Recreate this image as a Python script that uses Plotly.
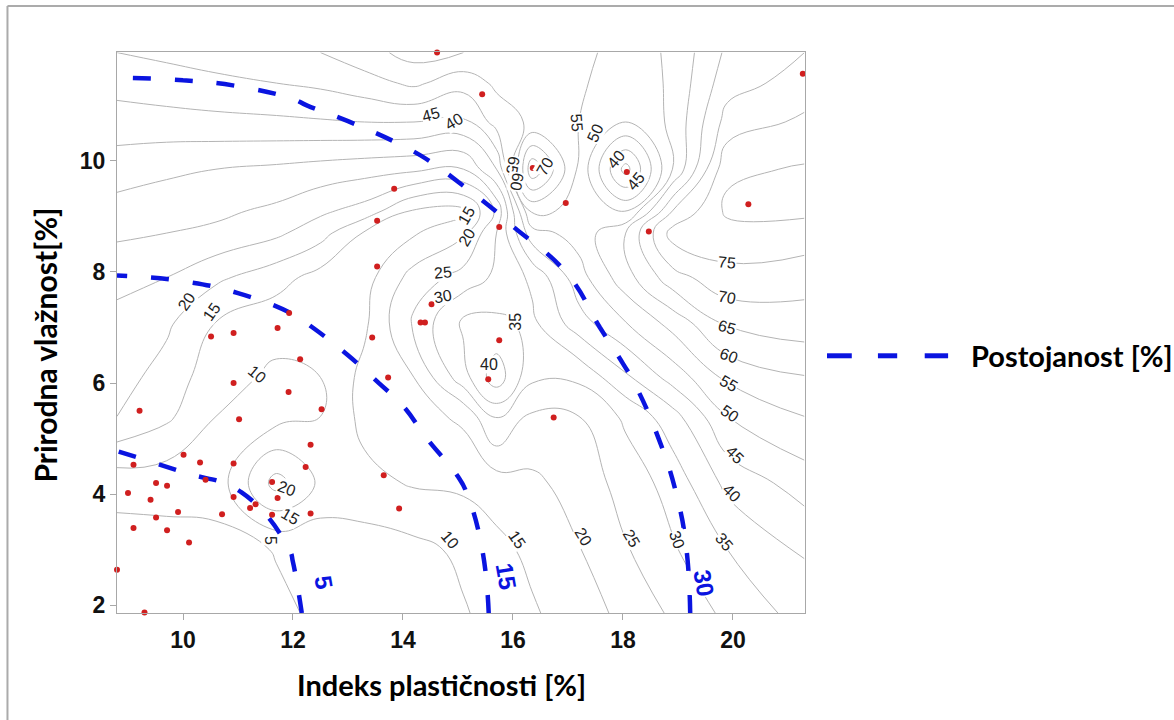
import plotly.graph_objects as go

# ---------------- data ----------------
# sample locations (Indeks plasticnosti, Prirodna vlaznost)
pts_x = [14.62, 21.27, 15.44, 13.84, 13.53, 13.53, 14.52, 14.32, 14.40, 11.93, 11.72,
         16.36, 18.07, 16.96, 15.15, 15.75, 18.47, 20.28, 15.75, 15.55, 16.74,
         10.51, 10.92, 13.44, 12.13, 13.73, 10.92, 11.92, 12.52, 9.21, 11.02,
         12.32, 10.01, 10.31, 10.92, 12.23, 9.10, 13.65, 9.51, 9.71, 10.41, 11.62,
         9.00, 10.92, 11.72, 9.41, 11.22, 11.32, 13.93, 9.91, 10.71, 11.62, 12.32,
         9.51, 9.10, 9.71, 10.11, 8.80, 9.30]
pts_y = [11.95, 11.57, 11.20, 9.50, 8.92, 8.10, 7.42, 7.09, 7.09, 7.26, 6.99,
         9.87, 9.80, 9.24, 9.08, 8.81, 8.73, 9.22, 6.77, 6.07, 5.38,
         6.84, 6.90, 6.82, 6.43, 6.10, 6.00, 5.84, 5.53, 5.50, 5.35,
         4.89, 4.71, 4.57, 4.55, 4.49, 4.53, 4.34, 4.20, 4.15, 4.26, 4.22,
         4.02, 3.95, 3.93, 3.90, 3.75, 3.82, 3.74, 3.68, 3.64, 3.63, 3.65,
         3.58, 3.39, 3.35, 3.13, 2.64, 1.87]

# gray contour field, values at grid nodes
gx = [8.8, 9.7, 10.6, 11.7, 12.5, 13.3, 14.2, 15.1, 15.7, 16.35, 17.2, 18.05, 18.9, 19.9, 21.3]
gy = [1.86, 3.0, 4.2, 5.4, 6.1, 7.1, 7.9, 8.7, 9.1, 9.85, 10.7, 11.4, 11.95]
gz = [
    [2, 2.5, 3, 4.3, 5.6, 7, 8.5, 9.6, 11.6, 14.4, 17.7, 21.3, 25.8, 31.2, 37],
    [2.5, 3, 3.5, 5.2, 6.4, 7.6, 8.6, 11.0, 13.6, 16.2, 19.8, 24.6, 29.4, 35, 40.5],
    [7, 7, 7, 22, 14, 13.5, 15.5, 16, 17.5, 19, 22, 27, 32, 41.4, 47.4],
    [20, 16, 10, 8, 10, 16.5, 18, 21, 31, 24, 25, 31, 38, 50, 55],
    [22, 18, 12, 9, 10, 16.5, 20, 33, 43, 31, 31, 39, 47, 56, 59.7],
    [24, 21, 15, 12, 11, 14, 26, 36, 36, 34, 43, 50, 57, 66, 68],
    [26, 25, 21, 17, 13, 13, 22, 27, 31, 36, 48, 58, 68, 73.5, 72],
    [31, 30, 29, 26, 22, 14.5, 14.5, 19, 30, 48, 52, 60, 77, 78, 78],
    [33, 32, 31, 29, 26, 23, 14.5, 14, 26, 56, 54, 49, 70, 81, 81],
    [37.5, 36, 35, 34, 33, 32, 31, 30, 40, 74, 54, 33, 55, 79, 80.5],
    [42.5, 43, 43.5, 44, 44.5, 45, 45, 44, 52, 56, 55, 50, 56, 72, 76],
    [47, 48, 49, 50, 51, 53, 56, 52, 56, 57, 56, 51, 56, 68, 72],
    [50, 51, 52, 53, 55, 58, 62, 60, 60, 58, 57, 52, 56, 66, 70],
]

# Postojanost [%] field (blue dashed isolines 5, 15, 30)
bx = [8.8, 10, 11, 12, 13, 14, 15, 16, 17, 18, 19, 20, 21.3]
by = [1.86, 3, 4, 5, 6, 7, 8, 9, 10, 11, 11.95]
bz = [
    [0.5, 2.2, 3.6, 4.6, 7.1, 10.1, 13.1, 16.5, 20.7, 24.8, 29.0, 33.5, 39],
    [0.8, 2.3, 3.6, 5.1, 7.9, 10.7, 13.5, 16.9, 21.1, 25.2, 29.3, 33.8, 39.5],
    [1.2, 3.1, 4.7, 7.0, 9.5, 11.9, 14.4, 18.0, 22.0, 26.1, 30.1, 34.5, 40],
    [6.1, 7.9, 9.4, 11.0, 12.5, 14.0, 16.3, 20.1, 23.8, 27.6, 31.3, 35.5, 41],
    [9.1, 10.5, 11.7, 12.9, 14.1, 15.7, 19.1, 22.5, 25.9, 29.3, 32.7, 36.5, 42],
    [12.1, 13.0, 13.7, 14.5, 15.9, 19.0, 22.0, 25.1, 28.2, 31.3, 34.4, 37.7, 43],
    [15.2, 15.4, 15.8, 16.6, 18.5, 21.0, 24.5, 27.7, 30.1, 32.8, 35.5, 38.5, 43],
    [19.4, 19.6, 20.2, 21.3, 23.0, 25.3, 28.0, 30.5, 33.0, 35.5, 38.0, 40.5, 44],
    [23.7, 24.0, 24.6, 25.6, 27.0, 28.9, 31.2, 33.5, 35.7, 38.0, 40.2, 42.5, 45.5],
    [27.9, 28.2, 28.7, 29.6, 31.2, 33.0, 35.0, 37.0, 39.0, 41.0, 43.0, 45.0, 47.5],
    [31.9, 32.0, 32.3, 32.9, 34.0, 35.5, 37.0, 38.7, 40.3, 42.0, 43.7, 45.5, 48],
]
blue_levels = [5, 15, 30]

x_ticks = [10, 12, 14, 16, 18, 20]
y_ticks = [2, 4, 6, 8, 10]

# contour label texts (gray) and where they sit
gray_labels = [
    ("45", 14.51, 10.83, -15), ("40", 14.93, 10.71, -30), ("55", 17.16, 10.69, 85),
    ("50", 17.50, 10.51, -65), ("65", 16.00, 9.92, 100), ("60", 16.06, 9.62, 100),
    ("70", 16.58, 9.90, -60), ("40", 17.87, 10.03, -50), ("45", 18.23, 9.63, -50),
    ("15", 15.16, 9.01, -60), ("20", 15.16, 8.62, -60), ("25", 14.72, 7.99, -5),
    ("30", 14.72, 7.55, -10), ("35", 16.05, 7.10, -90), ("40", 15.56, 6.34, 0),
    ("20", 10.07, 7.46, -55), ("15", 10.53, 7.28, -55), ("10", 11.35, 6.15, 40),
    ("20", 11.89, 4.11, 20), ("15", 11.95, 3.59, 30), ("5", 11.58, 3.16, 90),
    ("10", 14.85, 3.18, 50), ("15", 16.07, 3.18, 55), ("20", 17.27, 3.23, 60),
    ("25", 18.16, 3.21, 60), ("30", 18.98, 3.18, 70), ("35", 19.83, 3.14, 50),
    ("75", 19.90, 8.17, 5), ("70", 19.90, 7.54, 10), ("65", 19.90, 7.00, 15),
    ("60", 19.92, 6.50, 20), ("55", 19.92, 6.00, 30), ("50", 19.94, 5.46, 35),
    ("45", 20.03, 4.71, 45), ("40", 19.99, 4.02, 45),
]
blue_labels = [("5", 12.55, 2.42, 80), ("15", 15.87, 2.51, 80), ("30", 19.48, 2.40, 80)]

# ---------------- figure ----------------
BLUE = "#0a14e0"
fig = go.Figure()

fig.add_trace(go.Contour(
    x=gx, y=gy, z=gz,
    contours=dict(start=5, end=85, size=5, coloring="none", showlabels=False),
    line=dict(color="#b4b4b4", width=1, smoothing=1.3),
    showscale=False, hoverinfo="skip", showlegend=False))

for lev in blue_levels:
    fig.add_trace(go.Contour(
        x=bx, y=by, z=bz,
        contours=dict(start=lev, end=lev, size=1, coloring="none"),
        line=dict(color=BLUE, width=4.5, dash="18px,24px", smoothing=1.3),
        showscale=False, hoverinfo="skip", showlegend=False))

fig.add_trace(go.Scatter(
    x=pts_x, y=pts_y, mode="markers", cliponaxis=False,
    marker=dict(color="#d01f1f", size=6), showlegend=False, hoverinfo="skip"))

annots = []
for t, x, y, a in gray_labels:
    annots.append(dict(x=x, y=y, xref="x", yref="y", text=t, showarrow=False,
                       textangle=a, bgcolor="white", borderpad=0,
                       font=dict(family="Liberation Sans", size=16, color="#222222")))
for t, x, y, a in blue_labels:
    annots.append(dict(x=x, y=y, xref="x", yref="y", text=t, showarrow=False,
                       textangle=a, bgcolor="white", borderpad=0,
                       font=dict(family="Liberation Sans", size=24, color=BLUE, weight="bold")))

# axis titles
annots.append(dict(x=0.471, y=-0.127, xref="paper", yref="paper", showarrow=False,
                   xanchor="center", yanchor="middle",
                   text="Indeks plastičnosti [%]",
                   font=dict(family="Lato", size=29, color="black", weight="bold")))
annots.append(dict(x=-0.105, y=0.478, xref="paper", yref="paper", showarrow=False,
                   xanchor="center", yanchor="middle",
                   text="Prirodna vlažnost[%]", textangle=-90,
                   font=dict(family="Lato", size=30, color="black", weight="bold")))
# legend text
annots.append(dict(x=1.238, y=0.4585, xref="paper", yref="paper", showarrow=False,
                   xanchor="left", yanchor="middle", text="Postojanost [%]",
                   font=dict(family="Lato", size=29, color="black", weight="bold")))

shapes = []
for x0, x1 in [(1.032, 1.068), (1.106, 1.134), (1.174, 1.208)]:
    shapes.append(dict(type="line", xref="paper", yref="paper", x0=x0, x1=x1,
                       y0=0.4585, y1=0.4585, line=dict(color=BLUE, width=5)))
# page frame (top and left edges)
shapes.append(dict(type="line", xref="paper", yref="paper", x0=-0.1592, x1=1.6,
                   y0=1.0821, y1=1.0821, line=dict(color="#ababab", width=2)))
shapes.append(dict(type="line", xref="paper", yref="paper", x0=-0.1592, x1=-0.1592,
                   y0=1.0821, y1=-0.3, line=dict(color="#ababab", width=2)))

axis_common = dict(showgrid=False, zeroline=False, showline=True, linecolor="#a8a8a8",
                   linewidth=1, mirror=True, ticks="outside", ticklen=6,
                   tickcolor="#a8a8a8",
                   tickfont=dict(family="Liberation Sans", size=23, color="#111111",
                                 weight="bold"))
fig.update_layout(
    width=1174, height=720,
    margin=dict(l=117, r=369, t=52, b=107),
    paper_bgcolor="white", plot_bgcolor="white",
    xaxis=dict(range=[8.8, 21.31], tickvals=x_ticks, **axis_common),
    yaxis=dict(range=[1.86, 11.96], tickvals=y_ticks, **axis_common),
    annotations=annots, shapes=shapes, showlegend=False)

fig.write_html("out.html", config={"displayModeBar": False},
               post_script="document.body.style.margin='0px';"
                           "document.body.style.overflow='hidden';")
